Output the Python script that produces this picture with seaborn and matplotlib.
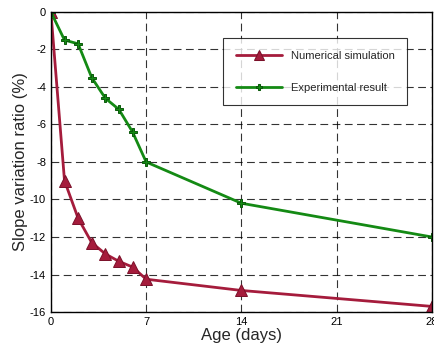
import matplotlib
matplotlib.use("Agg")
import matplotlib.pyplot as plt
import pandas as pd
import seaborn as sns
from matplotlib.ticker import FuncFormatter

age_days = [0, 1, 2, 3, 4, 5, 6, 7, 14, 28]
numerical = [0, -9.0, -11.0, -12.3, -12.9, -13.3, -13.6, -14.25, -14.85, -15.7]
experimental = [0, -1.5, -1.7, -3.5, -4.6, -5.2, -6.4, -8.0, -10.2, -12.0]
series_names = ["Numerical simulation", "Experimental result"]
x_ticks = [0, 7, 14, 21, 28]
y_ticks = [0, -2, -4, -6, -8, -10, -12, -14, -16]
colors = ["#A51C3C", "#148A14"]

df = pd.DataFrame({
    "age": age_days * 2,
    "ratio": numerical + experimental,
    "series": [series_names[0]] * len(age_days) + [series_names[1]] * len(age_days),
})

sns.set_theme(style="white")
plt.rcParams["font.family"] = ["Liberation Sans", "DejaVu Sans"]

fig = plt.figure(figsize=(4.35, 3.51), dpi=100)
ax = fig.add_axes([0.117, 0.111, 0.876, 0.855])

sns.lineplot(
    data=df, x="age", y="ratio", hue="series", style="series",
    palette=colors, markers=["^", "P"], dashes=False,
    linewidth=2, ax=ax,
)
for line, ms, edge in zip(ax.lines, [8, 6], ["#7A1029", "#0B5A0B"]):
    line.set_markersize(ms)
    line.set_markeredgecolor(edge)
    line.set_markeredgewidth(0.7)

ax.set_xlim(0, 28)
ax.set_ylim(-16, 0)
ax.set_xticks(x_ticks)
ax.set_yticks(y_ticks)
ax.yaxis.set_major_formatter(FuncFormatter(lambda v, p: f"{v:g}".replace("\u2212", "-")))
ax.grid(True, color="black", linestyle=(0, (7, 4)), linewidth=0.8, alpha=0.8)
ax.tick_params(direction="in", length=4, labelsize=8, colors="black")
for s in ax.spines.values():
    s.set_color("black")
    s.set_linewidth(1.0)
ax.set_xlabel("Age (days)", fontsize=12, labelpad=1)
ax.set_ylabel("Slope variation ratio (%)", fontsize=12, labelpad=1)

leg = ax.legend(
    loc="upper left", bbox_to_anchor=(0.438, 0.93), fontsize=8,
    frameon=True, fancybox=False, edgecolor="black", labelspacing=2.0,
    borderpad=1.1, handlelength=4.2, title=None,
)
leg.get_frame().set_linewidth(0.8)
for h, ms, edge in zip(leg.legend_handles, [7, 4], ["#7A1029", "#0B5A0B"]):
    h.set_markersize(ms)
    h.set_markeredgecolor(edge)

fig.savefig("out.png", dpi=100)
